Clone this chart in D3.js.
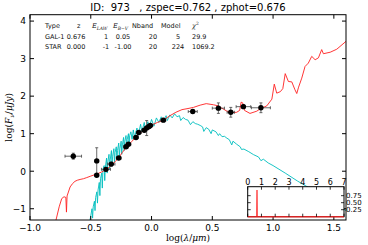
<!DOCTYPE html>
<html>
<head>
<meta charset="utf-8">
<script src="https://cdn.jsdelivr.net/npm/d3@7"></script>
<style>
  body { margin: 0; background: #fff; }
  svg text { font-family: "DejaVu Sans", sans-serif; }
  .math { font-family: "DejaVu Serif", serif; }
</style>
</head>
<body>
<div id="chart"></div>
<script>
// photometry: log(lambda/um), log(Fnu/uJy), errors
const obsX = [-0.644, -0.451, -0.451, -0.375, -0.331, -0.27, -0.21, -0.19, -0.128, -0.105,
              -0.06, -0.04, -0.02, -0.01, 0.097, 0.339, 0.55, 0.652, 0.756, 0.90];
const obsY = [0.40, 0.275, -0.107, 0.05, 0.19, 0.35, 0.65, 0.72, 0.90, 1.03,
              1.09, 1.15, 1.19, 1.22, 1.36, 1.59, 1.68, 1.57, 1.72, 1.69];
const obsXerr = [0.068, 0.01, 0.015, 0.037, 0.03, 0.02, 0.02, 0.02, 0.02, 0.02,
                 0.02, 0.02, 0.02, 0.02, 0.02, 0.037, 0.05, 0.03, 0.06, 0.078];
const obsYerr = [0.08, 0.35, 0.03, 0.05, 0.05, 0.04, 0.04, 0.04, 0.04, 0.04,
                 0.04, 0.2, 0.04, 0.04, 0.04, 0.05, 0.14, 0.13, 0.05, 0.13];

// galaxy template (red)
const galX = [-0.786, -0.76, -0.739, -0.72, -0.705, -0.70, -0.695, -0.67, -0.65, -0.63, -0.61, -0.588,
              -0.56, -0.533, -0.50, -0.465, -0.44, -0.41, -0.39, -0.375, -0.35, -0.33, -0.30, -0.27,
              -0.24, -0.20, -0.16, -0.128, -0.09, -0.053, -0.02, 0.0, 0.05, 0.097, 0.152, 0.20,
              0.25, 0.30, 0.345, 0.40, 0.45, 0.51, 0.55, 0.578, 0.62, 0.66, 0.70, 0.725, 0.737,
              0.75, 0.765, 0.81, 0.866, 0.893, 0.948, 0.99, 1.01, 1.03, 1.06, 1.08, 1.10, 1.126,
              1.154, 1.18, 1.195, 1.21, 1.236, 1.263, 1.29, 1.318, 1.346, 1.373, 1.40, 1.414,
              1.47, 1.524, 1.6];
const galY = [-1.3, -0.95, -0.73, -0.68, -0.70, -1.09, -0.66, -0.42, -0.33, -0.27, -0.24, -0.22,
              -0.20, -0.17, -0.13, -0.09, -0.06, -0.02, 0.02, 0.05, 0.10, 0.16, 0.25, 0.36,
              0.50, 0.67, 0.80, 0.91, 1.02, 1.12, 1.18, 1.23, 1.30, 1.36, 1.48, 1.57,
              1.64, 1.67, 1.70, 1.76, 1.80, 1.77, 1.74, 1.68, 1.60, 1.56, 1.57, 1.62, 1.84,
              1.82, 1.62, 1.54, 1.60, 1.66, 1.74, 1.92, 2.32, 2.08, 2.12, 2.20, 2.60, 2.39,
              2.38, 2.17, 2.07, 2.24, 2.48, 2.79, 2.88, 3.06, 2.97, 3.02, 3.24, 3.13,
              3.17, 3.25, 3.46];

// star template (cyan)
const starX = [-0.506, -0.49, -0.485, -0.48, -0.47, -0.465, -0.46, -0.45, -0.445, -0.44, -0.43, -0.425,
               -0.42, -0.41, -0.405, -0.40, -0.39, -0.385, -0.38, -0.37, -0.365, -0.36, -0.35, -0.345,
               -0.34, -0.33, -0.325, -0.32, -0.31, -0.305, -0.30, -0.29, -0.285, -0.28, -0.27, -0.265,
               -0.26, -0.25, -0.245, -0.24, -0.23, -0.225, -0.22, -0.21, -0.205, -0.20, -0.19, -0.185,
               -0.18, -0.17, -0.16, -0.15, -0.14, -0.12, -0.11, -0.09, -0.08, -0.06, -0.05, -0.03,
               -0.02, 0.0, 0.02, 0.04, 0.06, 0.08, 0.10, 0.12, 0.13, 0.15, 0.17, 0.19, 0.21, 0.23,
               0.24, 0.26, 0.28, 0.30, 0.32, 0.34, 0.36, 0.38, 0.40, 0.42, 0.43, 0.45, 0.47, 0.49,
               0.50, 0.53, 0.55, 0.56, 0.58, 0.60, 0.62, 0.64, 0.66, 0.67, 0.70, 0.73, 0.74, 0.76,
               0.80, 0.84, 0.88, 0.90, 0.92, 0.96, 1.00, 1.10, 1.20, 1.30, 1.40, 1.50, 1.60];
const starY = [-1.3, -1.0, -1.25, -0.95, -0.8, -1.05, -0.7, -0.55, -0.85, -0.5, -0.3, -0.65,
               -0.2, -0.05, -0.45, 0.05, 0.15, -0.25, 0.1, 0.35, -0.05, 0.25, 0.45, 0.05,
               0.3, 0.55, 0.15, 0.4, 0.6, 0.25, 0.5, 0.65, 0.3, 0.55, 0.75, 0.4,
               0.6, 0.8, 0.45, 0.7, 0.9, 0.55, 0.8, 0.95, 0.65, 0.85, 1.0, 0.7,
               0.95, 1.05, 0.85, 1.1, 0.9, 1.15, 0.95, 1.25, 1.05, 1.3, 1.1, 1.32,
               1.15, 1.38, 1.2, 1.42, 1.3, 1.45, 1.35, 1.48, 1.35, 1.5, 1.42, 1.53, 1.45, 1.48,
               1.35, 1.43, 1.38, 1.36, 1.24, 1.32, 1.27, 1.25, 1.22, 1.18, 1.06, 1.16, 1.12, 1.0,
               1.10, 1.05, 0.95, 1.0, 0.92, 0.93, 0.88, 0.84, 0.7, 0.80, 0.72, 0.65, 0.58, 0.59,
               0.52, 0.44, 0.38, 0.28, 0.32, 0.22, 0.15, -0.05, -0.26, -0.45, -0.65, -0.85, -1.05];

// redshift PDF (inset)
const pdfZ = [0, 0.66, 0.676, 0.69, 7];
const pdfP = [0, 0, 0.95, 0, 0];

const xTicks = [-1.0, -0.5, 0.0, 0.5, 1.0, 1.5];
const yTicks = [-1, 0, 1, 2, 3, 4];
const pdfXTicks = [0, 1, 2, 3, 4, 5, 6, 7];
const pdfYTicks = [0.25, 0.50, 0.75];

const tableHead = ["Type", "z", "E_LAW", "E_B-V", "Nband", "Model", "chi2"];
const tableRows = [
  ["GAL-1", "0.676", "1", "0.05", "20", "5", "29.9"],
  ["STAR", "0.000", "-1", "-1.00", "20", "224", "1069.2"]
];

const W = 368, H = 245;
const m = {top: 14.7, right: 22, bottom: 25, left: 30};
const iw = W - m.left - m.right, ih = H - m.top - m.bottom;

const svg = d3.select("#chart").append("svg").attr("width", W).attr("height", H);

const x = d3.scaleLinear().domain([-1.0, 1.6]).range([m.left, m.left + iw]);
const y = d3.scaleLinear().domain([-1.3, 4.17]).range([m.top + ih, m.top]);

svg.append("defs").append("clipPath").attr("id", "clip")
  .append("rect").attr("x", m.left).attr("y", m.top).attr("width", iw).attr("height", ih);

const plot = svg.append("g").attr("clip-path", "url(#clip)");
const line = d3.line().x(d => x(d[0])).y(d => y(d[1]));

plot.append("path").datum(d3.zip(starX, starY))
  .attr("d", line).attr("fill", "none").attr("stroke", "#00bfbf").attr("stroke-width", 1)
  .attr("stroke-opacity", 0.9);
plot.append("path").datum(d3.zip(galX, galY))
  .attr("d", line).attr("fill", "none").attr("stroke", "#ff2020").attr("stroke-width", 1)
  .attr("stroke-opacity", 0.9);

const obs = d3.range(obsX.length).map(i => ({x: obsX[i], y: obsY[i], ex: obsXerr[i], ey: obsYerr[i]}));
const eb = plot.append("g").attr("stroke", "#444").attr("stroke-width", 0.8);
eb.selectAll(".ex").data(obs).join("line")
  .attr("x1", d => x(d.x - d.ex)).attr("x2", d => x(d.x + d.ex))
  .attr("y1", d => y(d.y)).attr("y2", d => y(d.y));
eb.selectAll(".ey").data(obs).join("line")
  .attr("x1", d => x(d.x)).attr("x2", d => x(d.x))
  .attr("y1", d => y(d.y - d.ey)).attr("y2", d => y(d.y + d.ey));
// caps
obs.forEach(d => {
  [d.x - d.ex, d.x + d.ex].forEach(cx => eb.append("line")
    .attr("x1", x(cx)).attr("x2", x(cx)).attr("y1", y(d.y) - 1.5).attr("y2", y(d.y) + 1.5));
  [d.y - d.ey, d.y + d.ey].forEach(cy => eb.append("line")
    .attr("x1", x(d.x) - 1.5).attr("x2", x(d.x) + 1.5).attr("y1", y(cy)).attr("y2", y(cy)));
});
plot.append("g").selectAll("circle").data(obs).join("circle")
  .attr("cx", d => x(d.x)).attr("cy", d => y(d.y)).attr("r", 2.7).attr("fill", "#000");

// frame + inward ticks
const axG = svg.append("g").attr("font-size", 9);
axG.append("rect").attr("x", m.left).attr("y", m.top).attr("width", iw).attr("height", ih)
  .attr("fill", "none").attr("stroke", "#000").attr("stroke-width", 1);
xTicks.forEach(t => {
  axG.append("line").attr("x1", x(t)).attr("x2", x(t)).attr("y1", m.top + ih).attr("y2", m.top + ih - 4).attr("stroke", "#000");
  axG.append("line").attr("x1", x(t)).attr("x2", x(t)).attr("y1", m.top).attr("y2", m.top + 4).attr("stroke", "#000");
  axG.append("text").attr("x", x(t)).attr("y", m.top + ih + 11).attr("text-anchor", "middle")
    .text(d3.format(".1f")(t).replace("-", "\u2212"));
});
yTicks.forEach(t => {
  axG.append("line").attr("x1", m.left).attr("x2", m.left + 4).attr("y1", y(t)).attr("y2", y(t)).attr("stroke", "#000");
  axG.append("line").attr("x1", m.left + iw).attr("x2", m.left + iw - 4).attr("y1", y(t)).attr("y2", y(t)).attr("stroke", "#000");
  axG.append("text").attr("x", m.left - 4).attr("y", y(t) + 3.3).attr("text-anchor", "end")
    .text(String(t).replace("-", "\u2212"));
});

// axis labels
svg.append("text").attr("class", "math").attr("x", 188).attr("y", 241).attr("text-anchor", "middle")
  .attr("font-size", 9).html('log(<tspan font-style="italic">λ</tspan>/<tspan font-style="italic">μm</tspan>)');
svg.append("text").attr("class", "math").attr("transform", "translate(12," + (m.top + ih / 2) + ") rotate(-90)")
  .attr("text-anchor", "middle").attr("font-size", 9)
  .html('log(<tspan font-style="italic">F</tspan><tspan font-style="italic" font-size="6" dy="2">ν</tspan><tspan dy="-2">/</tspan><tspan font-style="italic">μJy</tspan>)');

// title
svg.append("text").attr("x", 188).attr("y", 11).attr("text-anchor", "middle").attr("font-size", 10)
  .style("white-space", "pre").text("ID:  973   , zspec=0.762 , zphot=0.676");

// fit table
const colX = [45, 77, 92, 113, 132, 161, 192];
const rowColX = [45, 70, 100, 117, 147, 172, 192];
const tab = svg.append("g").attr("font-size", 6.5).attr("fill", "#111");
tableHead.forEach((h, i) => {
  const t = tab.append("text").attr("x", colX[i]).attr("y", 28);
  if (h === "E_LAW") {
    t.attr("class", "math").html('<tspan font-style="italic">E</tspan><tspan font-style="italic" font-size="4.5" dy="1.5">LAW</tspan>');
  } else if (h === "E_B-V") {
    t.attr("class", "math").html('<tspan font-style="italic">E</tspan><tspan font-style="italic" font-size="4.5" dy="1.5">B−V</tspan>');
  } else if (h === "chi2") {
    t.attr("class", "math").html('<tspan font-style="italic">χ</tspan><tspan font-size="4.5" dy="-3">2</tspan>');
  } else t.text(h);
});
tableRows.forEach((r, j) => {
  r.forEach((v, i) => {
    const xx = rowColX[i];
    tab.append("text").attr("x", (i === 0 || i === 6) ? xx : xx + 6).attr("y", 39 + j * 10)
      .attr("text-anchor", (i === 0 || i === 6) ? "start" : "middle").text(v);
  });
});

// inset PDF
const ix = d3.scaleLinear().domain([0, 7]).range([247.7, 344]);
const iy = d3.scaleLinear().domain([0, 1.07]).range([216.7, 186.7]);
const ins = svg.append("g").attr("font-size", 8);
ins.append("rect").attr("x", 247.7).attr("y", 186.7).attr("width", 344 - 247.7).attr("height", 30)
  .attr("fill", "#fff").attr("stroke", "#000").attr("stroke-width", 1);
ins.append("path").datum(d3.zip(pdfZ, pdfP))
  .attr("d", d3.line().x(d => ix(d[0])).y(d => iy(d[1])))
  .attr("fill", "none").attr("stroke", "#ff2020").attr("stroke-opacity", 0.8).attr("stroke-width", 1.5);
pdfXTicks.forEach(t => {
  ins.append("line").attr("x1", ix(t)).attr("x2", ix(t)).attr("y1", 216.7).attr("y2", 213.7).attr("stroke", "#000").attr("stroke-width", 0.8);
  ins.append("line").attr("x1", ix(t)).attr("x2", ix(t)).attr("y1", 186.7).attr("y2", 189.7).attr("stroke", "#000").attr("stroke-width", 0.8);
  ins.append("text").attr("x", ix(t)).attr("y", 184.5).attr("text-anchor", "middle").text(t);
});
pdfYTicks.forEach(t => {
  ins.append("line").attr("x1", 247.7).attr("x2", 250.7).attr("y1", iy(t)).attr("y2", iy(t)).attr("stroke", "#000").attr("stroke-width", 0.8);
  ins.append("line").attr("x1", 344).attr("x2", 341).attr("y1", iy(t)).attr("y2", iy(t)).attr("stroke", "#000").attr("stroke-width", 0.8);
  ins.append("text").attr("x", 346).attr("y", iy(t) + 2.6).attr("font-size", 7).text(d3.format(".2f")(t));
});
</script>
</body>
</html>
